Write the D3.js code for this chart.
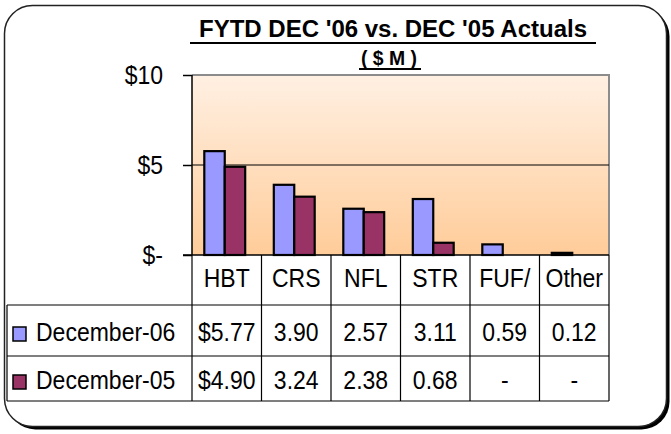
<!DOCTYPE html>
<html><head><meta charset="utf-8">
<script src="https://cdn.jsdelivr.net/npm/d3@7"></script>
<style>
html,body{margin:0;padding:0;background:#fff;}
svg{display:block;}
text{font-family:"Liberation Sans",Arial,Helvetica,sans-serif;fill:#000;}
</style></head>
<body>
<svg id="chart" width="671" height="434"></svg>
<script>
const categories = ["HBT","CRS","NFL","STR","FUF/","Other"];
const seriesNames = ["December-06","December-05"];
const dec06 = [5.77,3.90,2.57,3.11,0.59,0.12];
const dec05 = [4.90,3.24,2.38,0.68,0,0];
const seriesColors = ["#9999FF","#993366"];
const yTicks = [0,5,10];
const yTickLabels = ["$-","$5","$10"];
const titleText = "FYTD DEC '06 vs. DEC  '05 Actuals";
const subtitleText = "( $ M )";

const seriesValues = [dec06, dec05];
const svg = d3.select("#chart");
const FS = 25, SX = 0.92;
const tf = (x,y)=>`translate(${x},${y}) scale(${SX},1)`;

// outer frame with shadow
svg.append("rect").attr("x",7.5).attr("y",8.5).attr("width",662).attr("height",421).attr("rx",28).attr("fill","#000");
svg.append("rect").attr("x",4.5).attr("y",5.5).attr("width",662).attr("height",421).attr("rx",28)
  .attr("fill","#fff").attr("stroke","#222").attr("stroke-width",1.5);

// gradient
const defs = svg.append("defs");
const grad = defs.append("linearGradient").attr("id","bg").attr("x1",0).attr("y1",0).attr("x2",0).attr("y2",1);
grad.append("stop").attr("offset","0%").attr("stop-color","#FFF0E3");
grad.append("stop").attr("offset","100%").attr("stop-color","#FFCC99");

const pLeft = 192, pRight = 609, pTop = 75, pBottom = 255;
const x = d3.scaleBand().domain(categories).range([pLeft,pRight]).padding(0);
const x1 = d3.scaleBand().domain(seriesNames).range([0,x.bandwidth()]).paddingInner(0).paddingOuter(0.7).align(0.43);
const y = d3.scaleLinear().domain([0,10]).range([pBottom,pTop]);

// plot area
svg.append("rect").attr("x",pLeft).attr("y",pTop).attr("width",pRight-pLeft).attr("height",pBottom-pTop).attr("fill","url(#bg)");
svg.append("path").attr("d",`M${pLeft},${pTop}H${pRight}V${pBottom}`).attr("fill","none").attr("stroke","#8c8c8c").attr("stroke-width",2);
svg.append("g").selectAll("line").data(yTicks.filter(t=>t>0 && t<10)).join("line")
  .attr("x1",pLeft).attr("x2",pRight).attr("y1",d=>y(d)).attr("y2",d=>y(d)).attr("stroke","#000").attr("stroke-width",1);

// bars
const groups = svg.append("g").selectAll("g").data(categories).join("g")
  .attr("transform",d=>`translate(${x(d)},0)`);
groups.selectAll("rect").data((c,i)=>seriesNames.map((s,j)=>({s, v:seriesValues[j][i], j})).filter(d=>d.v>0)).join("rect")
  .attr("x",d=>x1(d.s)).attr("width",x1.bandwidth())
  .attr("y",d=>y(d.v)).attr("height",d=>y(0)-y(d.v))
  .attr("fill",d=>seriesColors[d.j]).attr("stroke","#000").attr("stroke-width",2.2);

// y axis
const yAxis = d3.axisLeft(y).tickValues(yTicks).tickFormat((d,i)=>yTickLabels[i]).tickSize(9).tickPadding(20);
const ga = svg.append("g").attr("transform",`translate(${pLeft},0)`).call(yAxis);
ga.select(".domain").attr("stroke","#000").attr("stroke-width",1.5).attr("d",`M0,${pTop}V${pBottom}`);
ga.selectAll(".tick line").attr("stroke","#000").attr("stroke-width",1.5);
ga.selectAll(".tick text").attr("font-size",FS).attr("font-family",'"Liberation Sans",Arial,sans-serif').attr("fill","#000")
  .attr("x",0).attr("dy",null).attr("transform",tf(-29,8));

// table
const rowLines = [305,356,401];
const tbl = svg.append("g").attr("stroke","#000").attr("stroke-width",1.2);
tbl.selectAll("line.h").data(rowLines).join("line").attr("class","h")
  .attr("x1",7).attr("x2",pRight).attr("y1",d=>d).attr("y2",d=>d);
const vx = categories.map(c=>x(c)).concat([pRight]);
tbl.selectAll("line.v").data(vx).join("line").attr("class","v")
  .attr("x1",d=>d).attr("x2",d=>d).attr("y1",pBottom).attr("y2",401);
tbl.append("line").attr("x1",7).attr("x2",7).attr("y1",305).attr("y2",401);
svg.append("line").attr("x1",pLeft-9).attr("x2",pRight).attr("y1",pBottom).attr("y2",pBottom).attr("stroke","#000").attr("stroke-width",1.5);

// header labels
svg.append("g").selectAll("text").data(categories).join("text")
  .attr("transform",d=>tf(x(d)+x.bandwidth()/2,287)).attr("text-anchor","middle")
  .attr("font-size",FS).text(d=>d);

function fmt(v,i){ if(v===0) return "-"; return (i===0?"$":"")+v.toFixed(2); }
const rowBase = [341,389];
seriesNames.forEach((s,j)=>{
  const g = svg.append("g");
  g.append("rect").attr("x",13).attr("y",rowBase[j]-14).attr("width",13).attr("height",14)
    .attr("fill",seriesColors[j]).attr("stroke","#000").attr("stroke-width",1.5);
  g.append("text").attr("transform",tf(36,rowBase[j])).attr("font-size",FS).text(s);
  g.selectAll("text.v").data(seriesValues[j]).join("text").attr("class","v")
    .attr("transform",(d,i)=>tf(x(categories[i])+x.bandwidth()/2,rowBase[j]))
    .attr("text-anchor","middle").attr("font-size",FS).text((d,i)=>fmt(d,i));
});

// titles
svg.append("text").attr("x",393).attr("y",37).attr("text-anchor","middle")
  .attr("font-size",23).attr("font-weight","bold").attr("textLength",388).attr("lengthAdjust","spacingAndGlyphs").text(titleText);
svg.append("line").attr("x1",190).attr("x2",596).attr("y1",43).attr("y2",43).attr("stroke","#000").attr("stroke-width",2);
svg.append("text").attr("x",389).attr("y",65).attr("text-anchor","middle")
  .attr("font-size",21).attr("font-weight","bold").attr("textLength",56).attr("lengthAdjust","spacingAndGlyphs").text(subtitleText);
svg.append("line").attr("x1",359).attr("x2",421).attr("y1",69).attr("y2",69).attr("stroke","#000").attr("stroke-width",2);
</script>
</body></html>
